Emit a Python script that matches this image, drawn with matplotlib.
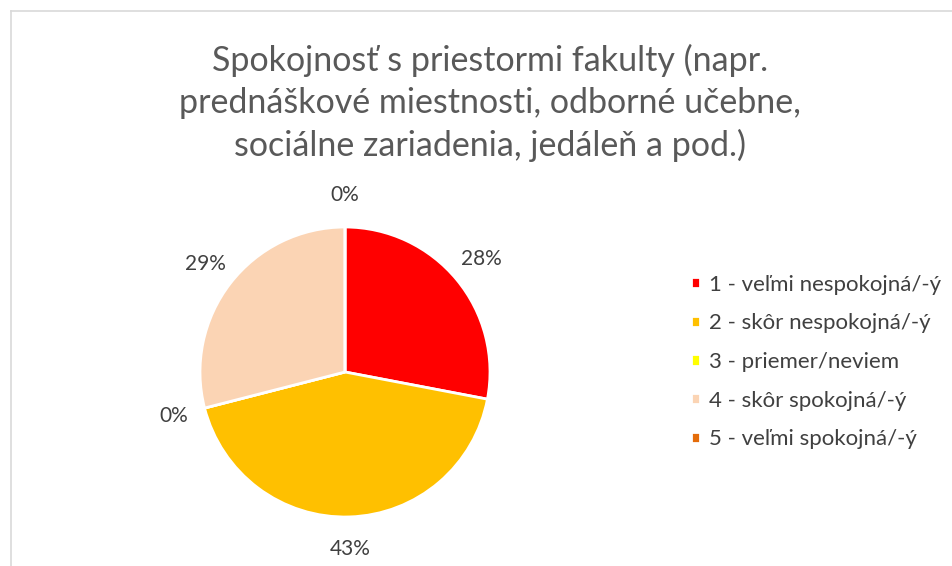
import matplotlib.pyplot as plt
from matplotlib.lines import Line2D

# Survey answers (share of respondents, %)
categories = [
    "1 - veľmi nespokojná/-ý",
    "2 - skôr nespokojná/-ý",
    "3 - priemer/neviem",
    "4 - skôr spokojná/-ý",
    "5 - veľmi spokojná/-ý",
]
shares = [28, 43, 0, 29, 0]
colors = ["#FF0000", "#FFC000", "#FFFF00", "#FBD4B4", "#E46C0A"]

title = ("Spokojnosť s priestormi fakulty (napr.\n"
         "prednáškové miestnosti, odborné učebne,\n"
         "sociálne zariadenia, jedáleň a pod.)")

plt.rcParams['font.family'] = ['Lato', 'DejaVu Sans']

W, H = 953, 566
fig = plt.figure(figsize=(W / 100, H / 100), dpi=100)

# pie axes: center (345, 372) px, radius 145 px
cx, cy, r = 345, 372, 145
ax = fig.add_axes([(cx - r) / W, (H - cy - r) / H, 2 * r / W, 2 * r / H])
wedges, texts, autotexts = ax.pie(
    shares, colors=colors, startangle=90, counterclock=False,
    autopct='%1.0f%%', pctdistance=1.22,
    wedgeprops=dict(edgecolor='white', linewidth=2),
    textprops=dict(color='#404040', fontsize=15),
)
for w in wedges:
    w.set_clip_on(False)
ax.set_xlim(-1, 1)
ax.set_ylim(-1, 1)
ax.set_aspect('equal')

fig.text(490 / W, 1 - 103 / H, title, ha='center', va='center',
         fontsize=24.5, color='#595959', linespacing=1.38)

leg = fig.legend(wedges, categories, loc='center left',
                 bbox_to_anchor=(671 / W, 1 - 362 / H), frameon=False,
                 fontsize=16, labelspacing=0.84, handlelength=0.4,
                 handleheight=0.4, handletextpad=0.4)
for t in leg.get_texts():
    t.set_color('#404040')

# chart area border (top and left visible)
fig.add_artist(Line2D([10.5 / W, 10.5 / W], [0, 1 - 10.5 / H], color='#D9D9D9', lw=1.2))
fig.add_artist(Line2D([10.5 / W, 1], [1 - 10.5 / H, 1 - 10.5 / H], color='#D9D9D9', lw=1.2))

fig.savefig('out.png', dpi=100)
